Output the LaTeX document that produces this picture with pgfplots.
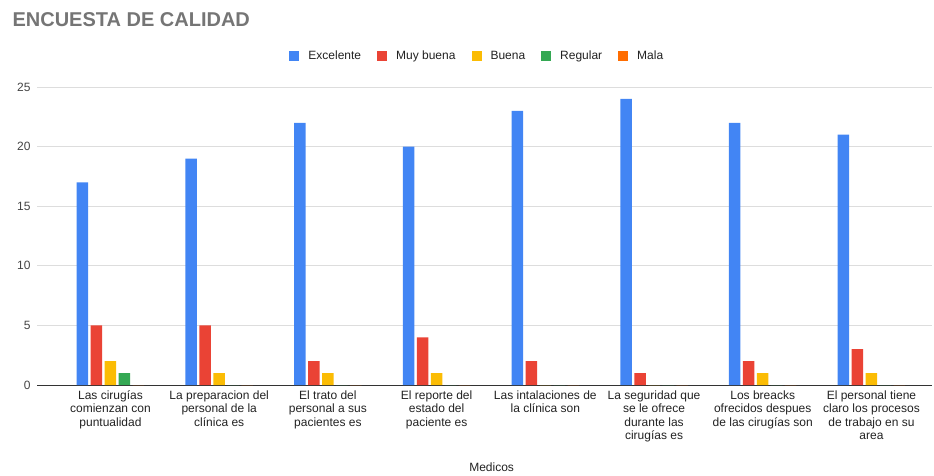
\documentclass[border=0pt]{standalone}
\usepackage{pgfplots}
\pgfplotsset{compat=1.18}
\usepackage{fontspec}
\setmainfont{Liberation Sans}
\definecolor{cExc}{HTML}{4285F4}
\definecolor{cMuy}{HTML}{EA4335}
\definecolor{cBue}{HTML}{FBBC04}
\definecolor{cReg}{HTML}{34A853}
\definecolor{cMal}{HTML}{FF6D01}
\definecolor{titlegray}{HTML}{757575}
\definecolor{ticktext}{HTML}{444444}
\definecolor{labtext}{HTML}{222222}
\definecolor{gridc}{HTML}{DDDDDD}
\definecolor{basec}{HTML}{333333}
\begin{document}
\begin{tikzpicture}
\path[use as bounding box] (-37pt,-90pt) rectangle (897pt,385pt);
\begin{axis}[
  at={(0pt,0pt)}, anchor=south west,
  scale only axis, width=895pt, height=298pt,
  ybar=2.5pt, bar width=11.5pt,
  xmin=-0.676, xmax=7.557, ymin=0, ymax=25,
  ytick={0,5,10,15,20,25},
  xtick={0,1,2,3,4,5,6,7},
  xticklabels={
    {Las cirugías\\comienzan con\\puntualidad},
    {La preparacion del\\personal de la\\clínica es},
    {El trato del\\personal a sus\\pacientes es},
    {El reporte del\\estado del\\paciente es},
    {Las intalaciones de\\la clínica son},
    {La seguridad que\\se le ofrece\\durante las\\cirugías es},
    {Los breacks\\ofrecidos despues\\de las cirugías son},
    {El personal tiene\\claro los procesos\\de trabajo en su\\area}},
  x tick label style={align=center, font=\fontsize{12}{13.4}\selectfont, text=labtext, anchor=north, yshift=-2pt},
  y tick label style={font=\fontsize{12}{14}\selectfont, text=ticktext, xshift=-3pt},
  /pgf/number format/assume math mode=true,
  major tick length=0pt,
  axis line style={draw=none},
  ymajorgrids, grid style={gridc, line width=0.8pt},
  extra y ticks={0}, extra y tick labels={},
  extra y tick style={grid style={basec, line width=0.9pt}},
  legend columns=5,
  legend style={draw=none, at={(0.492,1.104)}, anchor=center,
    font=\fontsize{12}{14}\selectfont, text=labtext,
    /tikz/every odd column/.append style={column sep=7pt},
    /tikz/every even column/.append style={column sep=14pt}},
  legend image code/.code={\fill[#1,draw=none] (0pt,-4.5pt) rectangle (10pt,5.5pt);},
  clip=false,
]
\addplot[fill=cExc, draw=none] coordinates {(0,17) (1,19) (2,22) (3,20) (4,23) (5,24) (6,22) (7,21)};
\addplot[fill=cMuy, draw=none] coordinates {(0,5) (1,5) (2,2) (3,4) (4,2) (5,1) (6,2) (7,3)};
\addplot[fill=cBue, draw=none] coordinates {(0,2) (1,1) (2,1) (3,1) (4,0) (5,0) (6,1) (7,1)};
\addplot[fill=cReg, draw=none] coordinates {(0,1) (1,0) (2,0) (3,0) (4,0) (5,0) (6,0) (7,0)};
\addplot[fill=cMal, draw=none] coordinates {(0,0) (1,0) (2,0) (3,0) (4,0) (5,0) (6,0) (7,0)};
\legend{Excelente, Muy buena, Buena, Regular, Mala}
\node[anchor=west, font=\fontsize{20}{24}\selectfont\bfseries, text=titlegray] at (rel axis cs:0,1) [xshift=-28pt, yshift=67pt] {ENCUESTA DE CALIDAD};
\node[font=\fontsize{12}{14}\selectfont, text=labtext] at (rel axis cs:0.508,0) [yshift=-82pt] {Medicos};
\end{axis}
\end{tikzpicture}
\end{document}
